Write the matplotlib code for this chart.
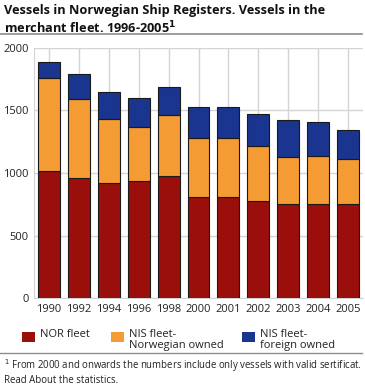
import matplotlib.pyplot as plt
import numpy as np
from matplotlib.patches import Rectangle
from matplotlib.lines import Line2D

plt.rcParams['font.family'] = ['Open Sans', 'DejaVu Sans']

years = ['1990', '1992', '1994', '1996', '1998', '2000', '2001', '2002', '2003', '2004', '2005']
nor_fleet = [1018, 960, 918, 934, 973, 811, 811, 777, 750, 750, 750]
nis_norwegian = [738, 633, 510, 436, 493, 466, 471, 441, 375, 386, 359]
nis_foreign = [132, 200, 218, 231, 218, 247, 247, 253, 295, 268, 237]

series = [
    ('NOR fleet', nor_fleet, '#9a0f0b'),
    ('NIS fleet-\nNorwegian owned', nis_norwegian, '#f59b34'),
    ('NIS fleet-\nforeign owned', nis_foreign, '#1a3590'),
]

W, H = 365, 386
fig = plt.figure(figsize=(W / 100, H / 100), dpi=100)

# axes placed in pixel units
left, right, top, bottom = 34, 363, 47.7, 298.3
ax = fig.add_axes([left / W, 1 - bottom / H, (right - left) / W, (bottom - top) / H])

x = np.arange(len(years))
base = np.zeros(len(years))
for name, vals, col in series:
    ax.bar(x, vals, width=0.73, bottom=base, color=col, edgecolor='#1a1a1a',
           linewidth=0.8, zorder=3)
    base += np.array(vals)

ax.set_xlim(-0.5, len(years) - 0.5)
ax.set_ylim(0, 2000)
ax.set_yticks([0, 500, 1000, 1500, 2000])
ax.set_xticks(x)
ax.set_xticklabels(years)
ax.tick_params(length=0, labelsize=8, colors='#222222', pad=4)
ax.grid(True, color='#d4d4d4', linewidth=1, zorder=0)
for s in ['top', 'right']:
    ax.spines[s].set_visible(False)
ax.spines['left'].set_color('#d4d4d4')
ax.spines['bottom'].set_color('#d4d4d4')

# title
fig.text(4 / W, 1 - 4 / H, 'Vessels in Norwegian Ship Registers. Vessels in the\nmerchant fleet. 1996-2005$^{\\mathbf{1}}$',
         fontsize=9.2, fontweight='bold', va='top', ha='left', linespacing=1.2, color='#111111')
fig.add_artist(Line2D([0, 362 / W], [1 - 33.5 / H] * 2, color='#8c8c8c', linewidth=1.2))

# legend
legend_x = [22, 111, 242]
for (name, vals, col), lx in zip(series, legend_x):
    fig.add_artist(Rectangle((lx / W, 1 - 342 / H), 13 / W, 10 / H, facecolor=col,
                             edgecolor='none', transform=fig.transFigure))
    fig.text((lx + 18) / W, 1 - 329 / H, name, fontsize=8, va='top', ha='left',
             linespacing=1.05, color='#222222')
fig.add_artist(Line2D([0, 362 / W], [1 - 353 / H] * 2, color='#8c8c8c', linewidth=1))

fig.text(4 / W, 1 - 357 / H, '$^1$ From 2000 and onwards the numbers include only vessels with valid sertificat.\nRead About the statistics.',
         fontsize=6.9, va='top', ha='left', linespacing=1.15, color='#222222')

fig.savefig('out.png', dpi=100)
